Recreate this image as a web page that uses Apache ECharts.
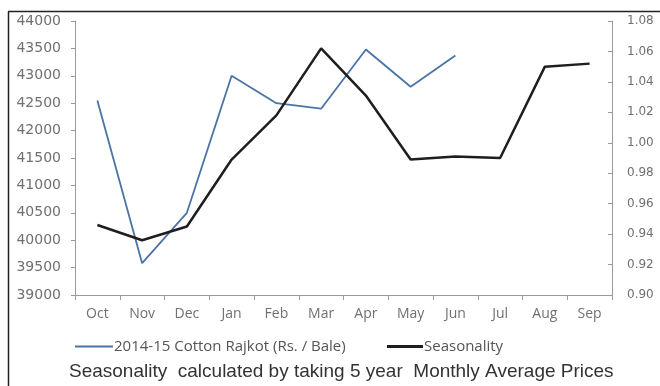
<!DOCTYPE html>
<html>
<head>
<meta charset="utf-8">
<script src="https://cdn.jsdelivr.net/npm/echarts@6/dist/echarts.min.js"></script>
<style>
html,body{margin:0;padding:0;background:#fff;}
#c{width:660px;height:386px;}
</style>
</head>
<body>
<div id="c"></div>
<script>
var categories = ['Oct','Nov','Dec','Jan','Feb','Mar','Apr','May','Jun','Jul','Aug','Sep'];
var cottonPrices = [42550, 39580, 40500, 43000, 42500, 42400, 43480, 42800, 43370, null, null, null];
var seasonality = [0.946, 0.936, 0.945, 0.989, 1.018, 1.062, 1.031, 0.989, 0.991, 0.990, 1.050, 1.052];
var cottonName = '2014-15 Cotton Rajkot (Rs. / Bale)';
var seasName = 'Seasonality';
var footnote = 'Seasonality  calculated by taking 5 year  Monthly Average Prices';

var chart = echarts.init(document.getElementById('c'));
var axisGray = '#9a9a9a';
var labelGray = '#707070';
chart.setOption({
  animation: false,
  backgroundColor: '#fff',
  grid: {left: 75, right: 48, top: 21, bottom: 91, containLabel: false},
  title: {
    text: footnote,
    left: 64, top: 357,
    textStyle: {fontFamily: 'Liberation Sans', fontSize: 19, fontWeight: 'normal', color: '#333'}
  },
  legend: [
    {
      data: [cottonName], left: 70, top: 334, icon: 'rect', itemWidth: 38, itemHeight: 2,
      textStyle: {fontFamily: 'Open Sans', fontSize: 15, color: '#555', padding: [0,0,0,-4]}
    },
    {
      data: [seasName], left: 382, top: 334, icon: 'rect', itemWidth: 36, itemHeight: 3,
      textStyle: {fontFamily: 'Open Sans', fontSize: 15, color: '#555', padding: [0,0,0,-4]}
    }
  ],
  xAxis: {
    type: 'category', data: categories, boundaryGap: true,
    axisLine: {lineStyle: {color: axisGray}},
    axisTick: {show: true, length: 5, lineStyle: {color: axisGray}},
    axisLabel: {fontFamily: 'Open Sans', fontSize: 14, color: labelGray, margin: 12}
  },
  yAxis: [
    {
      type: 'value', min: 39000, max: 44000, interval: 500,
      axisLine: {show: true, lineStyle: {color: axisGray}},
      axisTick: {show: true, length: 4, lineStyle: {color: axisGray}},
      splitLine: {show: false},
      axisLabel: {fontFamily: 'DejaVu Sans', fontSize: 14, color: labelGray, margin: 14,
        formatter: function (v) { return String(v); }}
    },
    {
      type: 'value', min: 0.9, max: 1.08, interval: 0.02, position: 'right',
      axisLine: {show: true, lineStyle: {color: axisGray}},
      axisTick: {show: true, inside: true, length: 4, lineStyle: {color: axisGray}},
      splitLine: {show: false},
      axisLabel: {fontFamily: 'DejaVu Sans', fontSize: 12, color: labelGray, margin: 15,
        formatter: function (v) { return v.toFixed(2); }}
    }
  ],
  series: [
    {
      name: cottonName, type: 'line', yAxisIndex: 0, data: cottonPrices,
      symbol: 'none', connectNulls: false,
      lineStyle: {color: '#4a74a4', width: 1.8},
      itemStyle: {color: '#4a74a4'}
    },
    {
      name: seasName, type: 'line', yAxisIndex: 1, data: seasonality,
      symbol: 'none',
      lineStyle: {color: '#1e1e1e', width: 2.5},
      itemStyle: {color: '#1e1e1e'}
    }
  ],
  graphic: [
    {type: 'line', shape: {x1: 8.5, y1: 11.5, x2: 8.5, y2: 386}, style: {stroke: '#222', lineWidth: 1.5}},
    {type: 'line', shape: {x1: 8, y1: 11.5, x2: 660, y2: 11.5}, style: {stroke: '#222', lineWidth: 1.5}}
  ]
});
</script>
</body>
</html>
